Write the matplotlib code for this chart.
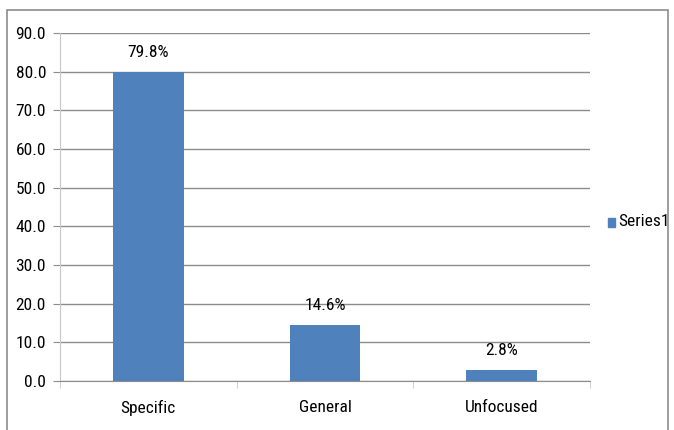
import matplotlib.pyplot as plt
from matplotlib.patches import Rectangle

categories = ['Specific', 'General', 'Unfocused']
values = [79.8, 14.6, 2.8]
labels = ['79.8%', '14.6%', '2.8%']
y_ticks = [0, 10, 20, 30, 40, 50, 60, 70, 80, 90]

plt.rcParams['font.family'] = ['Roboto Condensed', 'DejaVu Sans']
fs = 12.5

fig = plt.figure(figsize=(6.74, 4.30), dpi=100)
ax = fig.add_axes([60/674, 49/430, 530/674, 348/430])

blue = '#4F81BD'
grid = '#8C8C8C'
light = '#C8C8C8'

x = list(range(len(categories)))
ax.bar(x, values, width=0.4, color=blue, zorder=3)
for xi, v, lab in zip(x, values, labels):
    ax.annotate(lab, (xi, v), xytext=(0, 14), textcoords='offset points',
                ha='center', va='center', fontsize=fs)

ax.set_xlim(-0.5, 2.5)
ax.set_ylim(0, 90)
ax.set_yticks(y_ticks)
ax.set_yticklabels(['%.1f' % t for t in y_ticks], fontsize=fs)
ax.set_xticks(x)
ax.set_xticklabels(categories, fontsize=fs)
ax.set_xticks([-0.5, 0.5, 1.5, 2.5], minor=True)
ax.tick_params(axis='x', which='major', length=0, pad=14)
ax.tick_params(axis='x', which='minor', length=5, color=light, direction='out')
ax.tick_params(axis='y', length=5, color=grid, direction='out', pad=5)
ax.yaxis.grid(True, color=grid, linewidth=1, zorder=0)
for s in ['top', 'right']:
    ax.spines[s].set_visible(False)
ax.spines['left'].set_color(light)
ax.spines['bottom'].set_color(grid)

# legend
fig.patches.append(Rectangle((608/674, (430-227)/430), 7/674, 9/430,
                             transform=fig.transFigure, color=blue))
fig.text(618/674, (430-222)/430, 'Series1', fontsize=fs, va='center', ha='left')

# chart border
fig.patches.append(Rectangle((7/674, -0.05), 661/674, 1.05 - 10/430,
                             transform=fig.transFigure, fill=False,
                             edgecolor='#8c8c8c', linewidth=1.2))

fig.savefig('out.png', dpi=100)
